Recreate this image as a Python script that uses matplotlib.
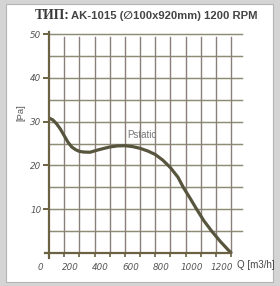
import matplotlib
matplotlib.use('Agg')
import matplotlib.pyplot as plt
from matplotlib.transforms import ScaledTranslation
from matplotlib.patches import Rectangle

flow = [0, 25, 50, 75, 100, 125, 150, 175, 200, 230, 270, 330, 400, 450, 500, 550, 600, 650,
        700, 750, 800, 850, 885, 930, 973, 1020, 1072, 1130, 1200]
pstatic = [30.8, 30.4, 29.5, 28.3, 26.8, 25.3, 24.2, 23.6, 23.2, 23.05, 23.0, 23.6, 24.2, 24.45,
           24.5, 24.3, 23.9, 23.3, 22.5, 21.2, 19.5, 17.3, 15.0, 12.5, 10.0, 7.4, 5.0, 2.6, 0]
xticks = [0, 200, 400, 600, 800, 1000, 1200]
xminor = list(range(0, 1300, 100))
yticks = [10, 20, 30, 40, 50]
ygrid = list(range(5, 55, 5))
title_type = "ТИП:"
title_rest = "AK-1015 (\u2205100x920mm) 1200 RPM"
curve_label = "Pstatic"

W, H = 280, 286
fig = plt.figure(figsize=(W / 100, H / 100), dpi=100)
fig.patch.set_facecolor('#d4d4d4')
fig.patches.append(Rectangle((6 / W, 4 / H), 267 / W, 278 / H, transform=fig.transFigure,
                             facecolor='white', edgecolor='#b4b4b4', lw=0.8, zorder=-10))

ax = fig.add_axes([49 / W, 33 / H, 193 / W, 219 / H])
ax.set_facecolor('none')
ax.set_xlim(0, 1272)
ax.set_ylim(0, 50)
for s in ax.spines.values():
    s.set_visible(False)

axis_col = '#6b6244'
for y in ygrid:
    ax.plot([0, 1272], [y, y], color='#8e8c74', lw=1.05, zorder=1, clip_on=False)
for x in xminor[1:]:
    ax.plot([x, x], [0, 49.4], color='#8a8079', lw=1.0, zorder=1, clip_on=False)

ax.plot(flow, pstatic, color='#57553d', lw=2.3, solid_capstyle='round',
        solid_joinstyle='round', zorder=3)

ax.plot([0, 0], [-1.1, 50.5], color=axis_col, lw=1.6, clip_on=False, zorder=4)
ax.plot([-26, 1200], [0, 0], color=axis_col, lw=1.6, clip_on=False, zorder=4)

tick_font = dict(family=['Liberation Sans Narrow', 'DejaVu Sans'], style='italic', size=6.3)
ax.set_xticks(xticks)
ax.set_xticks(xminor, minor=True)
ax.set_xticklabels([str(v) for v in xticks], color='#555555', fontdict=tick_font)
ax.set_yticks(yticks)
ax.set_yticklabels([str(v) for v in yticks], color='#555555', fontdict=tick_font)
ax.tick_params(axis='x', which='both', length=3, width=1.2, color=axis_col, pad=4)
ax.tick_params(axis='y', length=4, width=1.4, color=axis_col, pad=1.5)
off = ScaledTranslation(-0.09, 0, fig.dpi_scale_trans)
for lab in ax.get_xticklabels():
    lab.set_transform(lab.get_transform() + off)

ax.text(613, 26.9, curve_label, ha='center', va='center', fontsize=7,
        family='Liberation Sans', color='#777777', zorder=5)

fig.text(237 / W, 1 - 265 / H, "Q [m3/h]", ha='left', va='center', fontsize=7,
         family='Liberation Sans', color='#444444')
fig.text(21 / W, 1 - 113 / H, "[Pa]", ha='center', va='center', rotation=90, fontsize=6.8,
         family='Liberation Sans', color='#555555')

fig.text(35 / W, 1 - 19 / H, title_type, ha='left', va='baseline', fontsize=9.8,
         family='Liberation Serif', weight='bold', color='#3a3a3a')
fig.text(71 / W, 1 - 19 / H, title_rest, ha='left', va='baseline', fontsize=8.1,
         family=['Liberation Sans', 'DejaVu Sans'], weight='bold', color='#444444')

fig.savefig('out.png', dpi=100)
